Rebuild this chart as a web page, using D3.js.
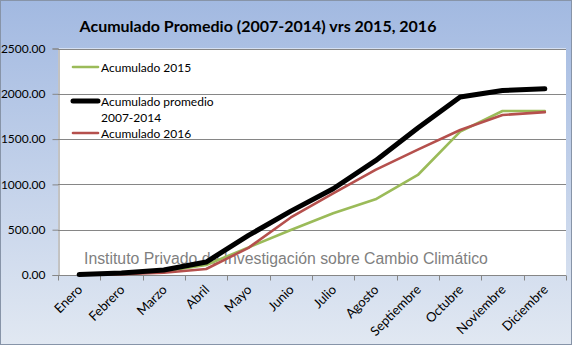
<!DOCTYPE html>
<html>
<head>
<meta charset="utf-8">
<script src="https://cdn.jsdelivr.net/npm/d3@7"></script>
<style>
  html, body { margin: 0; padding: 0; background: #fff; }
  svg { display: block; }
</style>
</head>
<body>
<svg id="chart" width="572" height="345"></svg>
<script>
// Monthly categories and cumulative rainfall series (mm)
const months = ["Enero", "Febrero", "Marzo", "Abril", "Mayo", "Junio", "Julio",
                "Agosto", "Septiembre", "Octubre", "Noviembre", "Diciembre"];
const acumulado2015 = [5, 15, 40, 110, 305, 497, 681, 835, 1104, 1582, 1810, 1810];
const acumuladoPromedio = [5, 22, 55, 143, 437, 705, 952, 1262, 1623, 1965, 2036, 2055];
const acumulado2016 = [5, 10, 25, 66, 300, 635, 902, 1160, 1383, 1600, 1766, 1798];
const yTicks = [0, 500, 1000, 1500, 2000, 2500];

const titleText = "Acumulado Promedio (2007-2014) vrs 2015, 2016";
const watermark = "Instituto Privado de Investigación sobre Cambio Climático";

const W = 572, H = 345;
const plot = { left: 58, right: 566, top: 48.5, bottom: 275 };
const uiFont = "Lato, 'Open Sans', sans-serif";

const svg = d3.select("#chart");

// Chart-area background gradient
const defs = svg.append("defs");
const grad = defs.append("linearGradient")
  .attr("id", "bg").attr("x1", 0).attr("y1", 0).attr("x2", 0).attr("y2", 1);
grad.append("stop").attr("offset", "0%").attr("stop-color", "#a2b9e1");
grad.append("stop").attr("offset", "100%").attr("stop-color", "#e1e8f2");

svg.append("rect").attr("x", 0.5).attr("y", 0.5).attr("width", W - 1).attr("height", H - 1)
  .attr("fill", "url(#bg)").attr("stroke", "#8794a8").attr("stroke-width", 1);

// Plot area
svg.append("rect")
  .attr("x", plot.left).attr("y", plot.top)
  .attr("width", plot.right - plot.left).attr("height", plot.bottom - plot.top)
  .attr("fill", "#ffffff");

const x = d3.scaleBand().domain(months).range([plot.left, plot.right]).padding(0);
const y = d3.scaleLinear().domain([0, 2500]).range([plot.bottom, plot.top]);

// Horizontal gridlines
svg.append("g").selectAll("line").data(yTicks.filter(d => d > 0)).join("line")
  .attr("x1", plot.left).attr("x2", plot.right)
  .attr("y1", d => Math.round(y(d)) + 0.5).attr("y2", d => Math.round(y(d)) + 0.5)
  .attr("stroke", "#868686").attr("stroke-width", 1);

// Y axis
const yAxis = svg.append("g")
  .attr("transform", `translate(${plot.left + 0.5},0)`)
  .call(d3.axisLeft(y).tickValues(yTicks).tickFormat(d3.format(".2f")).tickSize(6).tickPadding(7));
yAxis.select(".domain").attr("stroke", "#868686");
yAxis.selectAll(".tick line").attr("stroke", "#868686");
yAxis.selectAll(".tick text")
  .attr("font-family", uiFont).attr("font-size", 12).attr("fill", "#000");

// X axis: ticks between categories
const xAxisG = svg.append("g").attr("transform", `translate(0,${plot.bottom + 0.5})`);
xAxisG.append("line").attr("x1", plot.left).attr("x2", plot.right)
  .attr("stroke", "#868686");
const boundaries = months.map(m => x(m)).concat([plot.right]);
xAxisG.selectAll("line.tk").data(boundaries).join("line").attr("class", "tk")
  .attr("x1", d => Math.round(d) + 0.5).attr("x2", d => Math.round(d) + 0.5)
  .attr("y1", 0).attr("y2", 5).attr("stroke", "#868686");
xAxisG.selectAll("text").data(months).join("text")
  .attr("transform", d => `translate(${x(d) + x.bandwidth() / 2 + 4},${15}) rotate(-45)`)
  .attr("text-anchor", "end")
  .attr("font-family", uiFont).attr("font-size", 13).attr("fill", "#000")
  .text(d => d);

// Watermark
svg.append("text")
  .attr("x", 84).attr("y", 264)
  .attr("font-family", "'Liberation Sans', Arial, sans-serif").attr("font-size", 15.8)
  .attr("fill", "#7f7f7f")
  .text(watermark);

// Series lines
const line = d3.line()
  .x((d, i) => x(months[i]) + x.bandwidth() / 2)
  .y(d => y(d));

const series = [
  { name: "Acumulado 2015", values: acumulado2015, color: "#9bbb59", width: 2.6 },
  { name: "Acumulado 2016", values: acumulado2016, color: "#b5504d", width: 2.6 },
  { name: "Acumulado promedio 2007-2014", values: acumuladoPromedio, color: "#000000", width: 5 }
];

svg.append("g").selectAll("path").data(series).join("path")
  .attr("d", d => line(d.values))
  .attr("fill", "none")
  .attr("stroke", d => d.color)
  .attr("stroke-width", d => d.width)
  .attr("stroke-linejoin", "round")
  .attr("stroke-linecap", "round");

// Title
svg.append("text")
  .attr("x", 258).attr("y", 32)
  .attr("text-anchor", "middle")
  .attr("font-family", uiFont).attr("font-weight", "bold")
  .attr("font-size", 16).attr("fill", "#000")
  .text(titleText);

// Legend
const legend = [
  { lines: ["Acumulado 2015"], color: "#9bbb59", width: 2.6, y: 67 },
  { lines: ["Acumulado promedio", "2007-2014"], color: "#000000", width: 5, y: 101 },
  { lines: ["Acumulado 2016"], color: "#b5504d", width: 2.6, y: 133 }
];
const lg = svg.append("g");
legend.forEach(item => {
  lg.append("line")
    .attr("x1", 73).attr("x2", 98).attr("y1", item.y).attr("y2", item.y)
    .attr("stroke", item.color).attr("stroke-width", item.width).attr("stroke-linecap", "round");
  const t = lg.append("text")
    .attr("x", 101).attr("y", item.y + 4.5)
    .attr("font-family", uiFont).attr("font-size", 12).attr("fill", "#000");
  item.lines.forEach((s, i) => {
    t.append("tspan").attr("x", 101).attr("dy", i === 0 ? 0 : 16).text(s);
  });
});
</script>
</body>
</html>
